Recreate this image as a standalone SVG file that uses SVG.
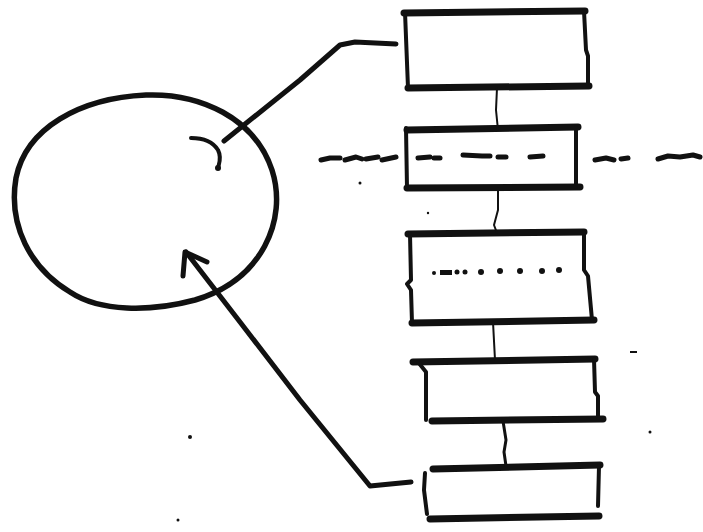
<svg xmlns="http://www.w3.org/2000/svg" width="703" height="532" viewBox="0 0 703 532">
<style>
.ink{fill:none;stroke:#111;stroke-linecap:round;stroke-linejoin:round}
.edge{stroke-width:7}
.side{stroke-width:4}
.thin{stroke-width:2}
.wire{stroke-width:5}
.scr{stroke-width:5}
.dot{fill:#111}
</style>
<rect width="703" height="532" fill="#fff"/>
<g id="circle">
<path class="ink" stroke-width="5.5" d="M146,95 C200,93 255,118 272,170 C288,220 262,280 195,300 C150,312 100,312 70,292 C30,268 8,225 16,178 C26,128 80,98 146,95 Z"/>
<path class="ink" stroke-width="4" d="M191,138 C203,138 213,142 218,150 C222,158 219,163 218,168"/>
<circle class="dot" cx="218" cy="168" r="3"/>
</g>
<g id="box1">
<path class="ink edge" d="M404,13 L585,11"/>
<path class="ink edge" d="M408,88 L589,86"/>
<path class="ink side" d="M405,12 L408,88"/>
<path class="ink side" d="M584,11 L586,50 L588,56 L588,86"/>
</g>
<g id="box2">
<path class="ink edge" d="M407,130 L578,127"/>
<path class="ink edge" d="M407,188 L580,187"/>
<path class="ink side" d="M406,128 L407,188"/>
<path class="ink side" d="M576,127 L576,187"/>
<g class="ink scr">
<path d="M418,158 L430,157"/><path d="M434,158 L440,158"/>
<path d="M463,155 L482,156 L490,156"/><path d="M498,157 L506,157"/>
<path d="M530,157 L543,156"/>
</g>
</g>
<g id="box3">
<path class="ink edge" d="M408,234 L584,232"/>
<path class="ink edge" d="M412,323 L594,320"/>
<path class="ink side" d="M410,234 L411,280 L407,284 L411,290 L412,323"/>
<path class="ink side" d="M584,232 L584,270 L588,276 L592,320"/>
<g class="dot">
<circle cx="434" cy="273" r="2"/><rect x="440" y="270" width="12" height="5"/>
<circle cx="457" cy="272" r="2.5"/><circle cx="465" cy="272" r="2.5"/>
<circle cx="481" cy="272" r="3"/><circle cx="500" cy="271" r="3"/>
<circle cx="520" cy="271" r="3"/><circle cx="542" cy="271" r="3"/>
<circle cx="559" cy="270" r="3"/>
</g>
</g>
<g id="box4">
<path class="ink edge" d="M413,362 L595,359"/>
<path class="ink edge" d="M432,421 L603,419"/>
<path class="ink side" d="M418,362 L426,372 L426,420"/>
<path class="ink side" d="M594,359 L595,392 L598,396 L598,418"/>
</g>
<g id="box5">
<path class="ink edge" d="M433,469 L600,465"/>
<path class="ink edge" d="M430,519 L599,516"/>
<path class="ink side" d="M425,473 L424,490 L427,514"/>
<path class="ink side" d="M599,466 L598,506"/>
</g>
<g id="connectors">
<path class="ink thin" d="M497,88 L496,110 L498,130"/>
<path class="ink thin" d="M498,188 L498,210 L494,225 L497,233"/>
<path class="ink thin" d="M493,322 L495,360"/>
<path class="ink" stroke-width="3" d="M503,421 L506,440 L504,452 L506,466"/>
<path class="ink wire" d="M224,141 L300,80 L340,45 L355,42 L396,44"/>
<path class="ink wire" d="M411,482 L370,486 L300,400 L240,322 L186,252"/>
<path class="ink wire" d="M183,276 L185,252 L207,262"/>
</g>
<g id="labels" class="ink scr">
<path d="M321,160 L330,158 L340,158"/><path d="M345,160 L356,157 L362,159"/>
<path d="M366,159 L378,157"/><path d="M382,160 L396,157"/>
<path d="M595,160 L606,158 L614,160"/><path d="M621,159 L628,158"/>
<path d="M658,159 L668,156 L680,157 L693,155 L700,157"/>
</g>
<g id="specks" class="dot">
<circle cx="190" cy="437" r="2"/><circle cx="360" cy="183" r="1.5"/>
<rect x="630" y="351" width="7" height="2"/><circle cx="650" cy="432" r="1.5"/>
<circle cx="178" cy="520" r="1.5"/><circle cx="428" cy="213" r="1.2"/>
</g>
</svg>
